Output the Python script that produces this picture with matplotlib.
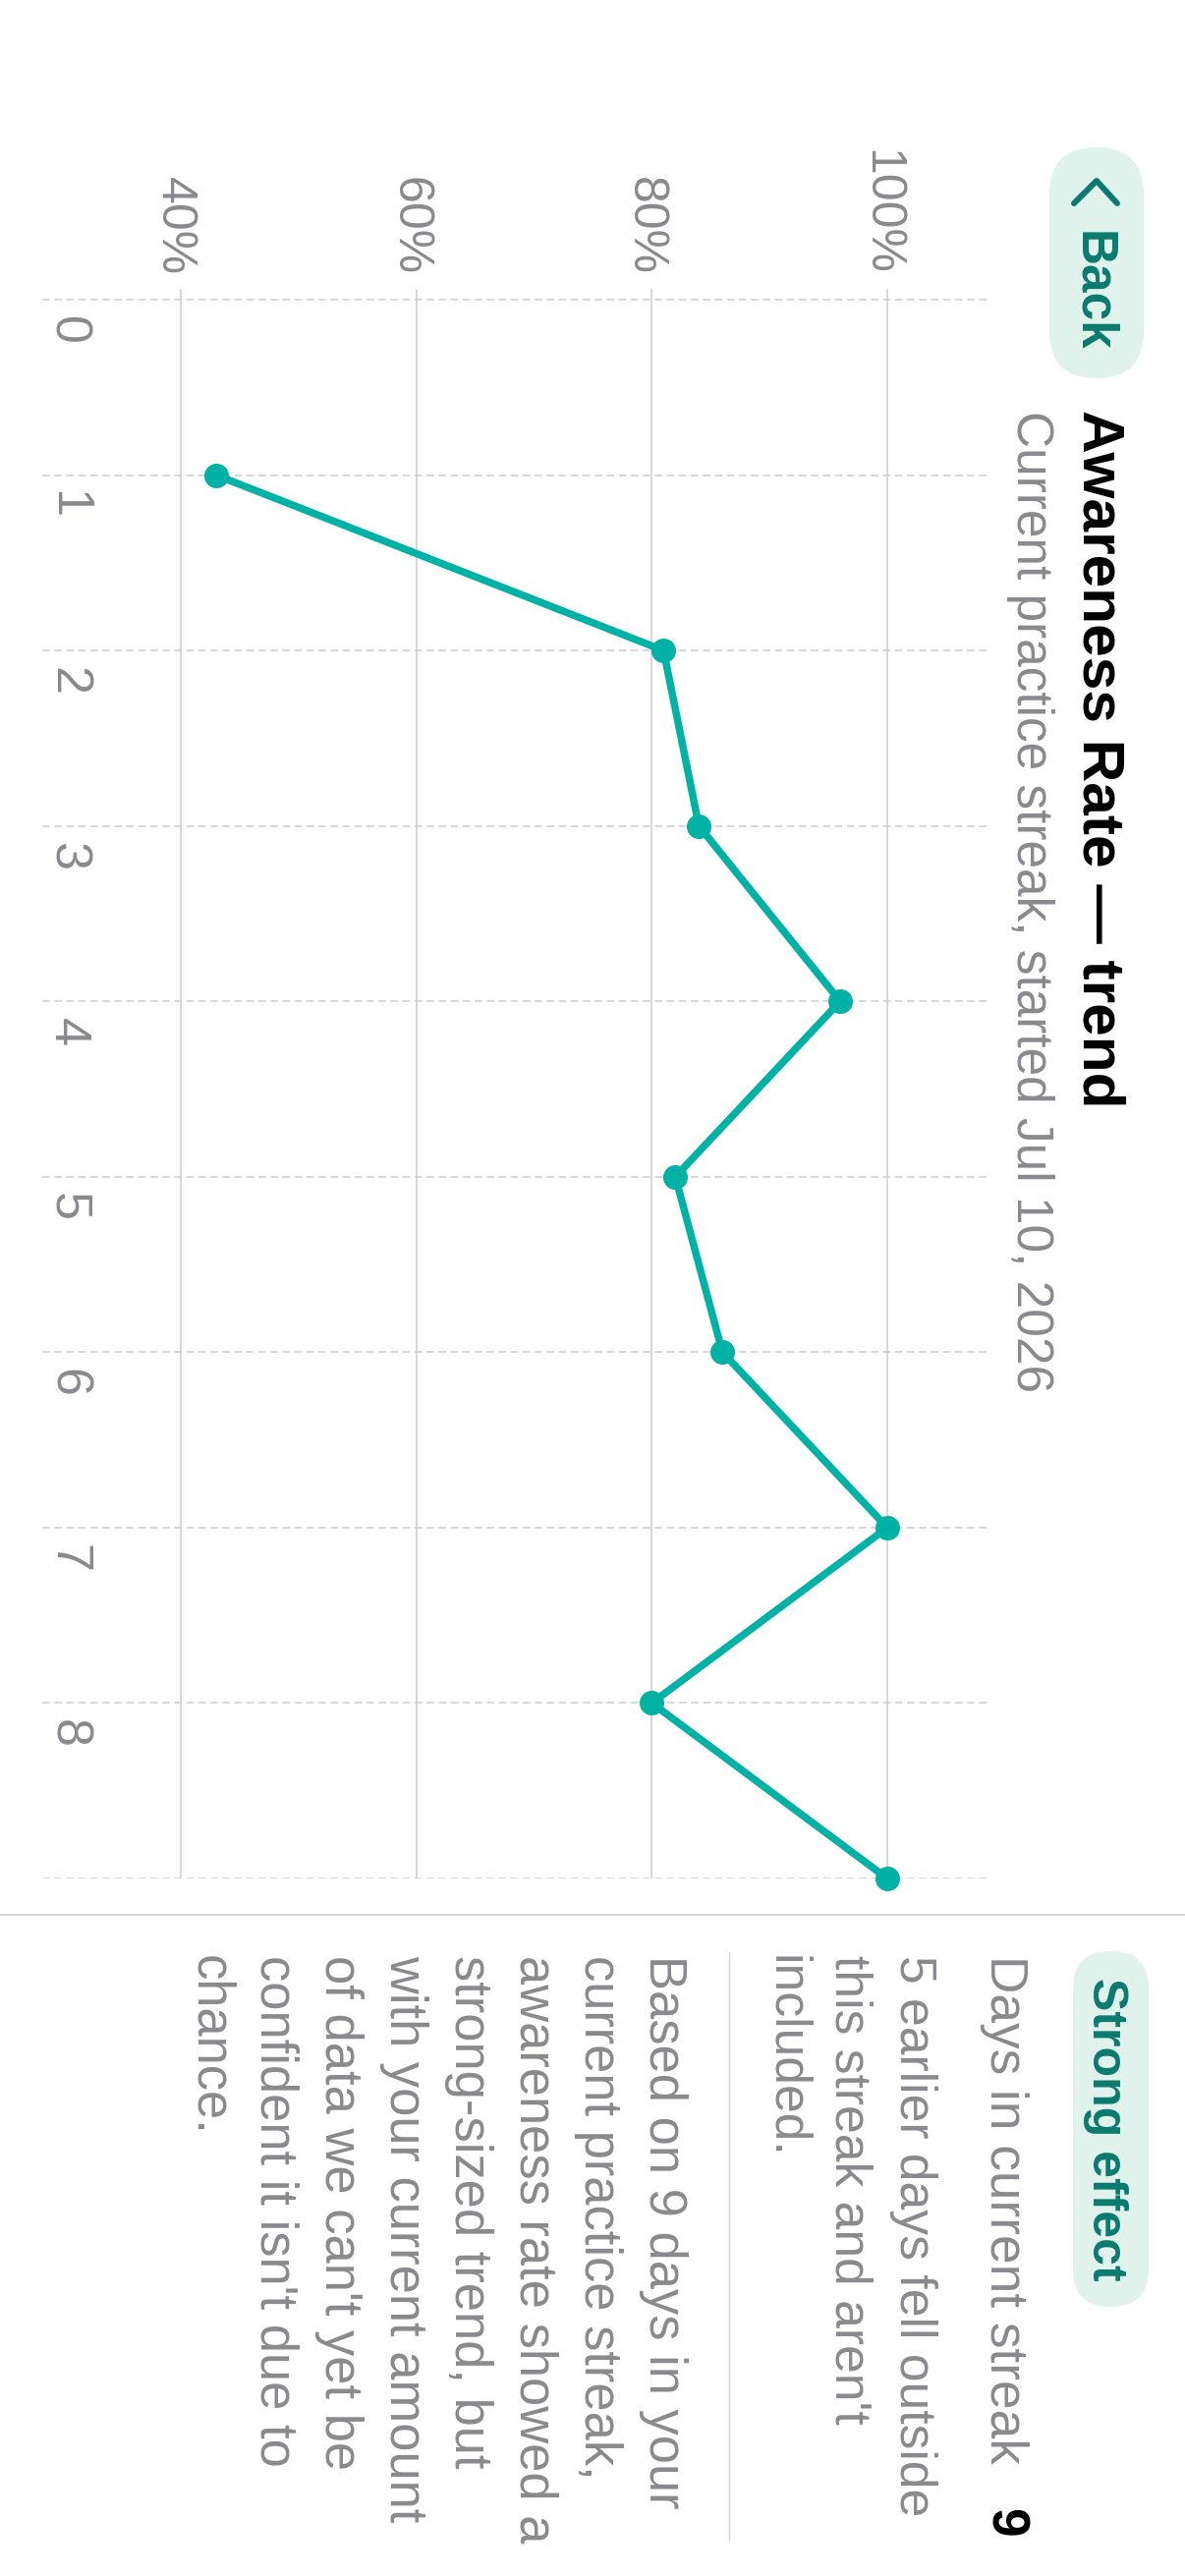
import numpy as np
import matplotlib.pyplot as plt
from matplotlib.patches import FancyBboxPatch

# Data
# ----
days = [1, 2, 3, 4, 5, 6, 7, 8, 9]
awareness = [43, 81, 84, 96, 82, 86, 100, 80, 100]
grid_days = list(range(10))
day_labels = ['0', '1', '2', '3', '4', '5', '6', '7', '8']
pct_ticks = [40, 60, 80, 100]
pct_labels = ['40%', '60%', '80%', '100%']

title = 'Awareness Rate \u2014 trend'
subtitle = 'Current practice streak, started Jul 10, 2026'
badge = 'Strong effect'
streak_label = 'Days in current streak'
streak_days = '9'
note_lines = ['5 earlier days fell outside', "this streak and aren't", 'included.']
summary_lines = ['Based on 9 days in your', 'current practice streak,',
                 'awareness rate showed a', 'strong-sized trend, but',
                 'with your current amount', "of data we can't yet be",
                 "confident it isn't due to", 'chance.']

plt.rcParams['font.family'] = ['Liberation Sans', 'DejaVu Sans']

TEAL = '#00b2a6'
DARK_TEAL = '#0b7a6e'
MINT = '#dff3ec'
GRAY = '#8a8a8e'
GRID = '#cdcdcd'

W, H = 1206, 2622
fig = plt.figure(figsize=(W / 100, H / 100), dpi=100)

# Background layer in pixel coordinates (screen is rotated 90 deg)
bg = fig.add_axes([0, 0, 1, 1])
bg.set_xlim(0, W)
bg.set_ylim(H, 0)
bg.axis('off')

def rtext(x, y, s, size, color=GRAY, weight='normal', ha='left'):
    bg.text(x, y, s, fontsize=size, color=color, fontweight=weight,
            rotation=-90, rotation_mode='anchor', ha=ha, va='baseline')

# Back button
bg.add_patch(FancyBboxPatch((1068, 150), 96, 235,
                            boxstyle='round,pad=0,rounding_size=48',
                            fc=MINT, ec='none'))
bg.plot([1093, 1116, 1137], [207, 184, 207], color=DARK_TEAL, lw=4.3,
        solid_capstyle='round', solid_joinstyle='round')
rtext(1098, 235, 'Back', 37, DARK_TEAL, 'bold')

# Title and subtitle
rtext(1102, 417, title, 43.5, 'black', 'bold')
rtext(1035, 418, subtitle, 37, GRAY)

# Divider between chart and stats
bg.plot([0, W], [1949, 1949], color=GRID, lw=1.2)

# Stats section
bg.add_patch(FancyBboxPatch((1092, 1986), 77, 362,
                            boxstyle='round,pad=0,rounding_size=38',
                            fc=MINT, ec='none'))
rtext(1112, 2013, badge, 36, DARK_TEAL, 'bold')
rtext(1008, 1990, streak_label, 38.3, GRAY)
rtext(1008, 2583, streak_days, 38.3, 'black', 'bold', ha='right')
for i, line in enumerate(note_lines):
    rtext(916 - 65 * i, 1990, line, 37.2, GRAY)
bg.plot([742, 742], [1987, 2585], color='#d6d6d6', lw=1.0)
for i, line in enumerate(summary_lines):
    rtext(661 - 65.9 * i, 1990, line, 37.8, GRAY)

# Chart (value axis horizontal, day axis vertical)
px_per_pct = (903 - 184) / 60.0
px_per_day = (1912 - 305) / 9.0
left, right, top, bottom = 43, 1008, 294, 1912
ax = fig.add_axes([left / W, 1 - bottom / H, (right - left) / W, (bottom - top) / H])
ax.set_xlim(40 - (184 - left) / px_per_pct, 100 + (right - 903) / px_per_pct)
ax.set_ylim(9, -(305 - top) / px_per_day)
ax.axis('off')

for p in pct_ticks:
    ax.axvline(p, color=GRID, lw=1.1, zorder=1)
for d in grid_days:
    ax.axhline(d, color=GRID, lw=1.1, ls=(0, (5, 3)), zorder=1)

ax.plot(awareness, days, color=TEAL, lw=5.4, marker='o', ms=17,
        clip_on=False, zorder=3)

for p, lab in zip(pct_ticks, pct_labels):
    ax.annotate(lab, xy=(p, 1), xycoords=('data', 'axes fraction'),
                xytext=(-14.4, 10), textcoords='offset points',
                rotation=-90, rotation_mode='anchor', ha='right', va='baseline',
                fontsize=36, color=GRAY, annotation_clip=False)
for d, lab in zip(grid_days, day_labels):
    ax.annotate(lab, xy=(0, d), xycoords=('axes fraction', 'data'),
                xytext=(8.6, -12), textcoords='offset points',
                rotation=-90, rotation_mode='anchor', ha='left', va='baseline',
                fontsize=37.5, color=GRAY, annotation_clip=False)

fig.savefig('out.png', dpi=100, facecolor='white')
